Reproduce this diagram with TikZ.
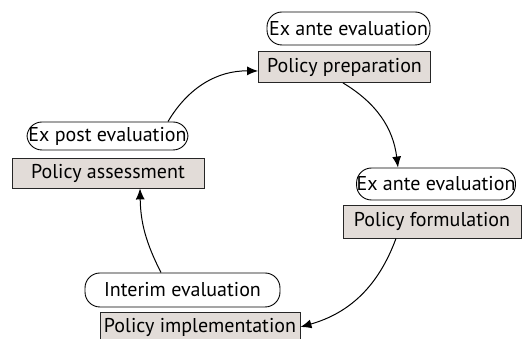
\documentclass[tikz,border=0pt]{standalone}
\usepackage{fontspec}
\setmainfont{PT Sans}
\usetikzlibrary{arrows.meta}
\definecolor{stagegray}{RGB}{226,220,216}
\begin{document}
\begin{tikzpicture}[x=1pt,y=1pt,
  stage/.style={draw=black!85,fill=stagegray,line width=0.9pt,inner sep=0pt,font=\fontsize{20}{22}\selectfont},
  evalbox/.style={draw=black,rounded corners=15pt,line width=0.9pt,inner sep=0pt,font=\fontsize{20}{22}\selectfont},
  flow/.style={-{Latex[length=11pt,width=9pt]},line width=1pt}]
\useasboundingbox (0,0) rectangle (523,339);
\node[evalbox,minimum width=163pt,minimum height=33pt] (antea) at (348.5,310.5) {Ex ante evaluation};
\node[stage,minimum width=172pt,minimum height=31pt] (prep) at (344.5,272) {Policy preparation};
\node[evalbox,minimum width=158pt,minimum height=32pt] (anteb) at (436,155) {Ex ante evaluation};
\node[stage,minimum width=178pt,minimum height=33pt] (form) at (432,117.5) {Policy formulation};
\node[evalbox,minimum width=195pt,minimum height=34pt] (interim) at (182.5,49) {Interim evaluation};
\node[stage,minimum width=200pt,minimum height=31pt] (impl) at (200,11.5) {Policy implementation};
\node[evalbox,minimum width=161pt,minimum height=28pt] (post) at (107.5,203) {Ex post evaluation};
\node[stage,minimum width=192pt,minimum height=30pt] (assess) at (108,166) {Policy assessment};

\draw[flow] (post.north -| 168,0) to[bend left=30] (prep.west |- 0,268);
\draw[flow] (prep.south -| 343,0) to[bend left=26] (anteb.north -| 398,0);
\draw[flow] (form.south -| 396,0) to[bend left=27] (impl.east |- 0,12);
\draw[flow] (interim.north -| 161,0) to[bend left=13] (assess.south -| 140,0);
\end{tikzpicture}
\end{document}
